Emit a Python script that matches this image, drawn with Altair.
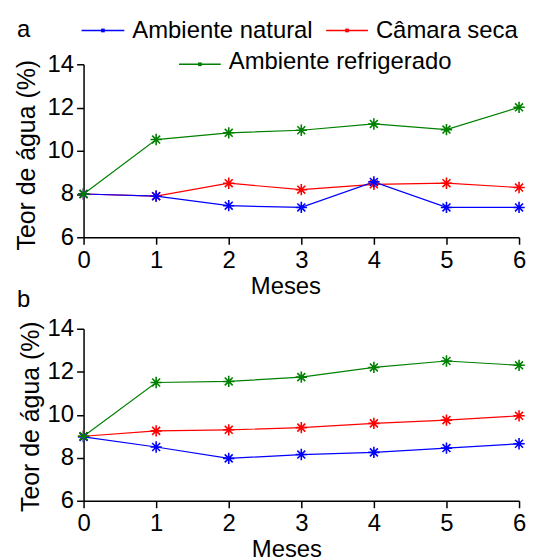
import altair as alt
import pandas as pd

meses = [0, 1, 2, 3, 4, 5, 6]
series = ["Ambiente natural", "Câmara seca", "Ambiente refrigerado"]
colors = ["#0000ff", "#ff0000", "#008000"]
draw_order = ["Câmara seca", "Ambiente natural", "Ambiente refrigerado"]

# Panel a
a_natural = [8.0, 7.9, 7.46, 7.38, 8.56, 7.38, 7.38]
a_seca = [8.0, 7.9, 8.5, 8.2, 8.45, 8.5, 8.3]
a_refrigerado = [8.0, 10.52, 10.83, 10.95, 11.24, 10.98, 12.01]

# Panel b
b_natural = [8.97, 8.5, 7.97, 8.15, 8.25, 8.45, 8.65]
b_seca = [9.0, 9.25, 9.3, 9.4, 9.6, 9.75, 9.95]
b_refrigerado = [9.0, 11.5, 11.55, 11.75, 12.2, 12.5, 12.3]

y_ticks = [6, 8, 10, 12, 14]
panel_letters = ["a", "b"]
x_title = "Meses"
y_title = "Teor de água (%)"

FONT = "Liberation Sans"
ASTER = "M-1,0L1,0M0,-1L0,1M-0.7,-0.7L0.7,0.7M-0.7,0.7L0.7,-0.7"

color_scale = alt.Scale(domain=series, range=colors)


def long_df(vals):
    d = dict(zip(series, vals))
    rows = []
    for s in draw_order:
        for m, v in zip(meses, d[s]):
            rows.append({"mes": m, "teor": v, "serie": s})
    return pd.DataFrame(rows)


def panel(df, letter, h, xtitle_x, xtitle_y, ytitle_x, ytitle_y, letter_x, letter_y, legend=False):
    x = alt.X("mes:Q", scale=alt.Scale(domain=[0, 6], nice=False),
              axis=alt.Axis(values=meses, title=x_title, titleX=xtitle_x, titleY=xtitle_y,
                            titleAlign="center", titleBaseline="alphabetic",
                            labelPadding=4, labelFlush=False, format="d"))
    y = alt.Y("teor:Q", scale=alt.Scale(domain=[6, 14], nice=False),
              axis=alt.Axis(values=y_ticks, title=y_title, titleX=ytitle_x, titleY=ytitle_y,
                            titleAngle=-90, titleAlign="center", titleBaseline="alphabetic",
                            titleFontSize=25, labelPadding=3, labelFlush=False))
    color = alt.Color("serie:N", scale=color_scale, legend=None)
    base = alt.Chart(df)
    line = base.mark_line(strokeWidth=1.2).encode(x=x, y=y, color=color, detail="serie:N")
    pts = base.mark_point(shape=ASTER, size=130, filled=False, strokeWidth=1.6, opacity=1).encode(
        x=x, y=y, color=color)
    lab = alt.Chart(pd.DataFrame({"t": [letter]})).mark_text(
        font=FONT, fontSize=24, align="left", baseline="alphabetic", color="black").encode(
        x=alt.value(letter_x), y=alt.value(letter_y), text="t:N")
    layers = [line, pts, lab]
    if legend:
        # (series index, line x0, line x1, line y, text baseline y)
        spec = [(0, -2, 41, -34, -26), (1, 244, 286, -34, -26), (2, 96, 138, 0, 5)]
        for i, x0, x1, ly, ty in spec:
            d = pd.DataFrame({"serie": [series[i]]})
            c = alt.Chart(d)
            layers.append(c.mark_rule(strokeWidth=1.5).encode(
                x=alt.value(x0), x2=alt.value(x1), y=alt.value(ly), color=color))
            layers.append(c.mark_point(shape="square", size=14, filled=True, opacity=1).encode(
                x=alt.value((x0 + x1) / 2), y=alt.value(ly), color=color))
            layers.append(c.mark_text(font=FONT, fontSize=24, align="left",
                                      baseline="alphabetic", color="black").encode(
                x=alt.value(x1 + 8), y=alt.value(ty), text="serie:N"))
    return alt.layer(*layers).properties(width=438, height=h)


pa = panel(long_df([a_natural, a_seca, a_refrigerado]), panel_letters[0], 174,
           203, 57, -49, 91, -67, -27, legend=True)
pb = panel(long_df([b_natural, b_seca, b_refrigerado]), panel_letters[1], 173,
           204, 56, -45, 88, -67, -22)

chart = alt.vconcat(pa, pb, spacing=92, bounds="flush").properties(
    padding={"left": 6, "top": 9, "right": 0, "bottom": 0}
).configure_view(stroke=None).configure_axis(
    grid=False, domainColor="black", tickColor="black", labelColor="black",
    titleColor="black", labelFont=FONT, titleFont=FONT, labelFontSize=24,
    titleFontSize=24, titleFontWeight="normal", tickSize=7, domainWidth=1.5, tickWidth=1.5
)

chart.save("out.html", embed_options={"renderer": "svg", "actions": False})
